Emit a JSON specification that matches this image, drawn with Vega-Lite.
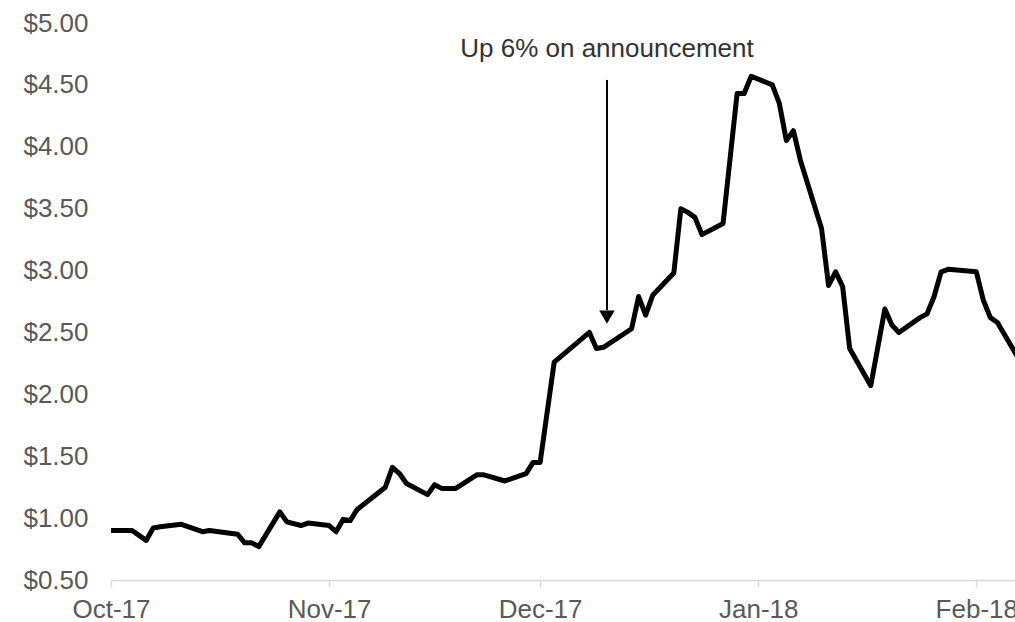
{
  "$schema": "https://vega.github.io/schema/vega-lite/v6.json",
  "width": 904,
  "height": 557,
  "autosize": "none",
  "padding": {"left": 111, "top": 23, "right": 0, "bottom": 42},
  "background": "white",
  "config": {
    "view": {"stroke": null},
    "font": "Liberation Sans"
  },
  "layer": [
    {
      "data": {
        "values": [
          {"date": "2017-10-01", "price": 0.90},
          {"date": "2017-10-04", "price": 0.90},
          {"date": "2017-10-06", "price": 0.82},
          {"date": "2017-10-07", "price": 0.92},
          {"date": "2017-10-08", "price": 0.93},
          {"date": "2017-10-11", "price": 0.95},
          {"date": "2017-10-14", "price": 0.89},
          {"date": "2017-10-15", "price": 0.90},
          {"date": "2017-10-19", "price": 0.87},
          {"date": "2017-10-20", "price": 0.80},
          {"date": "2017-10-21", "price": 0.80},
          {"date": "2017-10-22", "price": 0.77},
          {"date": "2017-10-25", "price": 1.05},
          {"date": "2017-10-26", "price": 0.97},
          {"date": "2017-10-28", "price": 0.94},
          {"date": "2017-10-29", "price": 0.96},
          {"date": "2017-11-01", "price": 0.94},
          {"date": "2017-11-02", "price": 0.89},
          {"date": "2017-11-03", "price": 0.99},
          {"date": "2017-11-04", "price": 0.98},
          {"date": "2017-11-05", "price": 1.07},
          {"date": "2017-11-09", "price": 1.25},
          {"date": "2017-11-10", "price": 1.41},
          {"date": "2017-11-11", "price": 1.36},
          {"date": "2017-11-12", "price": 1.28},
          {"date": "2017-11-15", "price": 1.19},
          {"date": "2017-11-16", "price": 1.27},
          {"date": "2017-11-17", "price": 1.24},
          {"date": "2017-11-19", "price": 1.24},
          {"date": "2017-11-22", "price": 1.35},
          {"date": "2017-11-23", "price": 1.35},
          {"date": "2017-11-26", "price": 1.30},
          {"date": "2017-11-29", "price": 1.36},
          {"date": "2017-11-30", "price": 1.45},
          {"date": "2017-12-01", "price": 1.45},
          {"date": "2017-12-03", "price": 2.26},
          {"date": "2017-12-08", "price": 2.50},
          {"date": "2017-12-09", "price": 2.37},
          {"date": "2017-12-10", "price": 2.38},
          {"date": "2017-12-14", "price": 2.53},
          {"date": "2017-12-15", "price": 2.79},
          {"date": "2017-12-16", "price": 2.64},
          {"date": "2017-12-17", "price": 2.80},
          {"date": "2017-12-20", "price": 2.98},
          {"date": "2017-12-21", "price": 3.50},
          {"date": "2017-12-22", "price": 3.47},
          {"date": "2017-12-23", "price": 3.43},
          {"date": "2017-12-24", "price": 3.29},
          {"date": "2017-12-27", "price": 3.38},
          {"date": "2017-12-29", "price": 4.43},
          {"date": "2017-12-30", "price": 4.43},
          {"date": "2017-12-31", "price": 4.57},
          {"date": "2018-01-03", "price": 4.50},
          {"date": "2018-01-04", "price": 4.35},
          {"date": "2018-01-05", "price": 4.05},
          {"date": "2018-01-06", "price": 4.13},
          {"date": "2018-01-07", "price": 3.89},
          {"date": "2018-01-10", "price": 3.34},
          {"date": "2018-01-11", "price": 2.88},
          {"date": "2018-01-12", "price": 2.99},
          {"date": "2018-01-13", "price": 2.87},
          {"date": "2018-01-14", "price": 2.37},
          {"date": "2018-01-17", "price": 2.07},
          {"date": "2018-01-18", "price": 2.38},
          {"date": "2018-01-19", "price": 2.69},
          {"date": "2018-01-20", "price": 2.56},
          {"date": "2018-01-21", "price": 2.50},
          {"date": "2018-01-24", "price": 2.62},
          {"date": "2018-01-25", "price": 2.65},
          {"date": "2018-01-26", "price": 2.79},
          {"date": "2018-01-27", "price": 2.99},
          {"date": "2018-01-28", "price": 3.01},
          {"date": "2018-02-01", "price": 2.99},
          {"date": "2018-02-02", "price": 2.76},
          {"date": "2018-02-03", "price": 2.62},
          {"date": "2018-02-04", "price": 2.58},
          {"date": "2018-02-07", "price": 2.29}
        ]
      },
      "mark": {"type": "line", "color": "black", "strokeWidth": 5, "strokeJoin": "round", "clip": true},
      "encoding": {
        "x": {
          "field": "date",
          "type": "temporal",
          "scale": {
            "type": "utc",
            "domain": [
              {"year": 2017, "month": 10, "date": 1, "utc": true},
              {"year": 2018, "month": 2, "date": 6, "hours": 12, "utc": true}
            ]
          },
          "axis": {
            "title": null,
            "format": "%b-%y",
            "tickCount": {"interval": "month", "step": 1},
            "grid": false,
            "domainColor": "#d9d9d9",
            "domainWidth": 1.5,
            "tickColor": "#d9d9d9",
            "tickWidth": 1.5,
            "tickSize": 7,
            "labelFlush": false,
            "labelOverlap": false,
            "labelPadding": 9,
            "labelFontSize": 26,
            "labelColor": "#595959",
            "labelFont": "Liberation Sans"
          }
        },
        "y": {
          "field": "price",
          "type": "quantitative",
          "scale": {"domain": [0.5, 5.0], "nice": false, "zero": false},
          "axis": {
            "title": null,
            "values": [0.5, 1.0, 1.5, 2.0, 2.5, 3.0, 3.5, 4.0, 4.5, 5.0],
            "format": "$.2f",
            "grid": false,
            "domain": false,
            "ticks": false,
            "labelPadding": 23,
            "labelFlush": false,
            "labelOverlap": false,
            "labelFontSize": 26,
            "labelColor": "#595959",
            "labelFont": "Liberation Sans"
          }
        }
      }
    },
    {
      "data": {"values": [{"label": "Up 6% on announcement"}]},
      "layer": [
        {
          "mark": {"type": "rule", "color": "black", "strokeWidth": 2},
          "encoding": {
            "x": {"datum": {"year": 2017, "month": 12, "date": 10, "hours": 12, "utc": true}, "type": "temporal"},
            "y": {"datum": 4.54, "type": "quantitative"},
            "y2": {"datum": 2.68}
          }
        },
        {
          "mark": {"type": "point", "shape": "triangle-down", "filled": true, "color": "black", "size": 240, "opacity": 1},
          "encoding": {
            "x": {"datum": {"year": 2017, "month": 12, "date": 10, "hours": 12, "utc": true}, "type": "temporal"},
            "y": {"datum": 2.624, "type": "quantitative"}
          }
        },
        {
          "mark": {"type": "text", "fontSize": 26, "font": "Liberation Sans", "color": "#333333", "align": "center", "baseline": "middle"},
          "encoding": {
            "text": {"field": "label"},
            "x": {"datum": {"year": 2017, "month": 12, "date": 10, "hours": 12, "utc": true}, "type": "temporal"},
            "y": {"datum": 4.79, "type": "quantitative"}
          }
        }
      ]
    }
  ]
}
